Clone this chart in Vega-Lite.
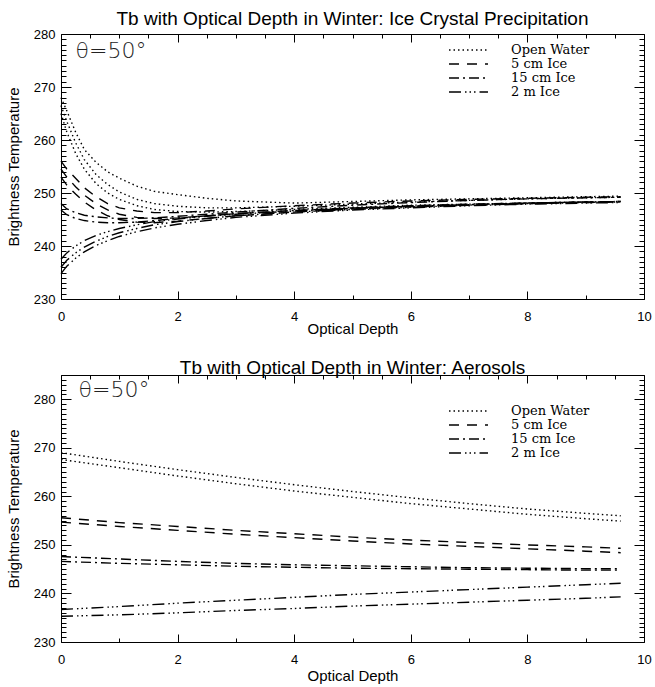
{
  "$schema": "https://vega.github.io/schema/vega-lite/v6.json",
  "background": "white",
  "padding": {"left": 5, "top": 9, "right": 5, "bottom": 1},
  "spacing": 21,
  "config": {
    "view": {"stroke": "black", "strokeWidth": 1},
    "font": "Liberation Sans",
    "title": {"fontSize": 19, "fontWeight": "normal", "color": "black", "font": "Liberation Sans"},
    "axis": {"grid": false, "domain": false, "ticks": true, "tickColor": "black", "tickWidth": 1, "labelColor": "black", "titleColor": "black", "titleFontWeight": "normal", "labelFontSize": 13, "titleFontSize": 15, "labelOverlap": false, "labelBound": false, "labelFlush": false}
  },
  "datasets": {
    "ice": [
      {"t":"Open Water","l":"a","x":0,"y":268},{"t":"Open Water","l":"a","x":0.1,"y":265.5},{"t":"Open Water","l":"a","x":0.25,"y":261.5},{"t":"Open Water","l":"a","x":0.4,"y":258.2},{"t":"Open Water","l":"a","x":0.6,"y":255.8},{"t":"Open Water","l":"a","x":0.8,"y":254},{"t":"Open Water","l":"a","x":1,"y":252.8},{"t":"Open Water","l":"a","x":1.3,"y":251.3},{"t":"Open Water","l":"a","x":1.6,"y":250.3},{"t":"Open Water","l":"a","x":2,"y":249.7},{"t":"Open Water","l":"a","x":2.5,"y":249},{"t":"Open Water","l":"a","x":3,"y":248.5},{"t":"Open Water","l":"a","x":4,"y":248.1},{"t":"Open Water","l":"a","x":5,"y":248.4},{"t":"Open Water","l":"a","x":6,"y":248.7},{"t":"Open Water","l":"a","x":7,"y":248.9},{"t":"Open Water","l":"a","x":8,"y":249.1},{"t":"Open Water","l":"a","x":9,"y":249.3},{"t":"Open Water","l":"a","x":9.6,"y":249.4},
      {"t":"Open Water","l":"b","x":0,"y":266.5},{"t":"Open Water","l":"b","x":0.1,"y":263.5},{"t":"Open Water","l":"b","x":0.25,"y":259.5},{"t":"Open Water","l":"b","x":0.4,"y":256.3},{"t":"Open Water","l":"b","x":0.6,"y":253.5},{"t":"Open Water","l":"b","x":0.8,"y":251.6},{"t":"Open Water","l":"b","x":1,"y":250.2},{"t":"Open Water","l":"b","x":1.3,"y":248.8},{"t":"Open Water","l":"b","x":1.6,"y":248},{"t":"Open Water","l":"b","x":2,"y":247.5},{"t":"Open Water","l":"b","x":2.5,"y":247.2},{"t":"Open Water","l":"b","x":3,"y":247.2},{"t":"Open Water","l":"b","x":4,"y":247.5},{"t":"Open Water","l":"b","x":5,"y":247.9},{"t":"Open Water","l":"b","x":6,"y":248.3},{"t":"Open Water","l":"b","x":7,"y":248.6},{"t":"Open Water","l":"b","x":8,"y":248.9},{"t":"Open Water","l":"b","x":9,"y":249.1},{"t":"Open Water","l":"b","x":9.6,"y":249.2},
      {"t":"Open Water","l":"c","x":0,"y":265},{"t":"Open Water","l":"c","x":0.1,"y":261.5},{"t":"Open Water","l":"c","x":0.25,"y":257.5},{"t":"Open Water","l":"c","x":0.4,"y":254.5},{"t":"Open Water","l":"c","x":0.6,"y":251.8},{"t":"Open Water","l":"c","x":0.8,"y":250},{"t":"Open Water","l":"c","x":1,"y":248.8},{"t":"Open Water","l":"c","x":1.3,"y":247.6},{"t":"Open Water","l":"c","x":1.6,"y":246.9},{"t":"Open Water","l":"c","x":2,"y":246.5},{"t":"Open Water","l":"c","x":2.5,"y":246.4},{"t":"Open Water","l":"c","x":3,"y":246.5},{"t":"Open Water","l":"c","x":4,"y":246.9},{"t":"Open Water","l":"c","x":5,"y":247.3},{"t":"Open Water","l":"c","x":6,"y":247.7},{"t":"Open Water","l":"c","x":7,"y":247.9},{"t":"Open Water","l":"c","x":8,"y":248.1},{"t":"Open Water","l":"c","x":9,"y":248.3},{"t":"Open Water","l":"c","x":9.6,"y":248.4},
      {"t":"5 cm Ice","l":"a","x":0,"y":256},{"t":"5 cm Ice","l":"a","x":0.1,"y":254.5},{"t":"5 cm Ice","l":"a","x":0.25,"y":252.8},{"t":"5 cm Ice","l":"a","x":0.4,"y":251},{"t":"5 cm Ice","l":"a","x":0.6,"y":249.3},{"t":"5 cm Ice","l":"a","x":0.8,"y":248},{"t":"5 cm Ice","l":"a","x":1,"y":247.2},{"t":"5 cm Ice","l":"a","x":1.3,"y":246.6},{"t":"5 cm Ice","l":"a","x":1.6,"y":246.3},{"t":"5 cm Ice","l":"a","x":2,"y":246.3},{"t":"5 cm Ice","l":"a","x":2.5,"y":246.6},{"t":"5 cm Ice","l":"a","x":3,"y":247},{"t":"5 cm Ice","l":"a","x":4,"y":247.6},{"t":"5 cm Ice","l":"a","x":5,"y":248.1},{"t":"5 cm Ice","l":"a","x":6,"y":248.5},{"t":"5 cm Ice","l":"a","x":7,"y":248.8},{"t":"5 cm Ice","l":"a","x":8,"y":249},{"t":"5 cm Ice","l":"a","x":9,"y":249.2},{"t":"5 cm Ice","l":"a","x":9.6,"y":249.3},
      {"t":"5 cm Ice","l":"b","x":0,"y":254.5},{"t":"5 cm Ice","l":"b","x":0.1,"y":253},{"t":"5 cm Ice","l":"b","x":0.25,"y":251.2},{"t":"5 cm Ice","l":"b","x":0.4,"y":249.6},{"t":"5 cm Ice","l":"b","x":0.6,"y":248},{"t":"5 cm Ice","l":"b","x":0.8,"y":246.8},{"t":"5 cm Ice","l":"b","x":1,"y":246},{"t":"5 cm Ice","l":"b","x":1.3,"y":245.4},{"t":"5 cm Ice","l":"b","x":1.6,"y":245.2},{"t":"5 cm Ice","l":"b","x":2,"y":245.3},{"t":"5 cm Ice","l":"b","x":2.5,"y":245.7},{"t":"5 cm Ice","l":"b","x":3,"y":246.1},{"t":"5 cm Ice","l":"b","x":4,"y":246.7},{"t":"5 cm Ice","l":"b","x":5,"y":247.2},{"t":"5 cm Ice","l":"b","x":6,"y":247.6},{"t":"5 cm Ice","l":"b","x":7,"y":247.9},{"t":"5 cm Ice","l":"b","x":8,"y":248.1},{"t":"5 cm Ice","l":"b","x":9,"y":248.3},{"t":"5 cm Ice","l":"b","x":9.6,"y":248.4},
      {"t":"5 cm Ice","l":"c","x":0,"y":253},{"t":"5 cm Ice","l":"c","x":0.1,"y":251.5},{"t":"5 cm Ice","l":"c","x":0.25,"y":249.8},{"t":"5 cm Ice","l":"c","x":0.4,"y":248.3},{"t":"5 cm Ice","l":"c","x":0.6,"y":246.8},{"t":"5 cm Ice","l":"c","x":0.8,"y":245.7},{"t":"5 cm Ice","l":"c","x":1,"y":245},{"t":"5 cm Ice","l":"c","x":1.3,"y":244.5},{"t":"5 cm Ice","l":"c","x":1.6,"y":244.4},{"t":"5 cm Ice","l":"c","x":2,"y":244.7},{"t":"5 cm Ice","l":"c","x":2.5,"y":245.2},{"t":"5 cm Ice","l":"c","x":3,"y":245.7},{"t":"5 cm Ice","l":"c","x":4,"y":246.4},{"t":"5 cm Ice","l":"c","x":5,"y":247},{"t":"5 cm Ice","l":"c","x":6,"y":247.4},{"t":"5 cm Ice","l":"c","x":7,"y":247.7},{"t":"5 cm Ice","l":"c","x":8,"y":248},{"t":"5 cm Ice","l":"c","x":9,"y":248.2},{"t":"5 cm Ice","l":"c","x":9.6,"y":248.3},
      {"t":"15 cm Ice","l":"a","x":0,"y":248},{"t":"15 cm Ice","l":"a","x":0.1,"y":247},{"t":"15 cm Ice","l":"a","x":0.25,"y":246.3},{"t":"15 cm Ice","l":"a","x":0.4,"y":245.8},{"t":"15 cm Ice","l":"a","x":0.6,"y":245.5},{"t":"15 cm Ice","l":"a","x":0.8,"y":245.3},{"t":"15 cm Ice","l":"a","x":1,"y":245.2},{"t":"15 cm Ice","l":"a","x":1.3,"y":245.2},{"t":"15 cm Ice","l":"a","x":1.6,"y":245.3},{"t":"15 cm Ice","l":"a","x":2,"y":245.6},{"t":"15 cm Ice","l":"a","x":2.5,"y":246},{"t":"15 cm Ice","l":"a","x":3,"y":246.4},{"t":"15 cm Ice","l":"a","x":4,"y":247.1},{"t":"15 cm Ice","l":"a","x":5,"y":247.7},{"t":"15 cm Ice","l":"a","x":6,"y":248.2},{"t":"15 cm Ice","l":"a","x":7,"y":248.6},{"t":"15 cm Ice","l":"a","x":8,"y":248.9},{"t":"15 cm Ice","l":"a","x":9,"y":249.1},{"t":"15 cm Ice","l":"a","x":9.6,"y":249.2},
      {"t":"15 cm Ice","l":"b","x":0,"y":246.8},{"t":"15 cm Ice","l":"b","x":0.1,"y":245.9},{"t":"15 cm Ice","l":"b","x":0.25,"y":245.2},{"t":"15 cm Ice","l":"b","x":0.4,"y":244.8},{"t":"15 cm Ice","l":"b","x":0.6,"y":244.5},{"t":"15 cm Ice","l":"b","x":0.8,"y":244.4},{"t":"15 cm Ice","l":"b","x":1,"y":244.4},{"t":"15 cm Ice","l":"b","x":1.3,"y":244.5},{"t":"15 cm Ice","l":"b","x":1.6,"y":244.8},{"t":"15 cm Ice","l":"b","x":2,"y":245.2},{"t":"15 cm Ice","l":"b","x":2.5,"y":245.7},{"t":"15 cm Ice","l":"b","x":3,"y":246.1},{"t":"15 cm Ice","l":"b","x":4,"y":246.7},{"t":"15 cm Ice","l":"b","x":5,"y":247.1},{"t":"15 cm Ice","l":"b","x":6,"y":247.5},{"t":"15 cm Ice","l":"b","x":7,"y":247.8},{"t":"15 cm Ice","l":"b","x":8,"y":248.1},{"t":"15 cm Ice","l":"b","x":9,"y":248.3},{"t":"15 cm Ice","l":"b","x":9.6,"y":248.4},
      {"t":"2 m Ice","l":"a","x":0,"y":237.5},{"t":"2 m Ice","l":"a","x":0.1,"y":238.7},{"t":"2 m Ice","l":"a","x":0.25,"y":240},{"t":"2 m Ice","l":"a","x":0.4,"y":241},{"t":"2 m Ice","l":"a","x":0.6,"y":242},{"t":"2 m Ice","l":"a","x":0.8,"y":242.7},{"t":"2 m Ice","l":"a","x":1,"y":243.3},{"t":"2 m Ice","l":"a","x":1.3,"y":244},{"t":"2 m Ice","l":"a","x":1.6,"y":244.6},{"t":"2 m Ice","l":"a","x":2,"y":245.1},{"t":"2 m Ice","l":"a","x":2.5,"y":245.6},{"t":"2 m Ice","l":"a","x":3,"y":246},{"t":"2 m Ice","l":"a","x":4,"y":246.6},{"t":"2 m Ice","l":"a","x":5,"y":247.1},{"t":"2 m Ice","l":"a","x":6,"y":247.5},{"t":"2 m Ice","l":"a","x":7,"y":247.8},{"t":"2 m Ice","l":"a","x":8,"y":248.1},{"t":"2 m Ice","l":"a","x":9,"y":248.3},{"t":"2 m Ice","l":"a","x":9.6,"y":248.4},
      {"t":"2 m Ice","l":"b","x":0,"y":236},{"t":"2 m Ice","l":"b","x":0.1,"y":237.3},{"t":"2 m Ice","l":"b","x":0.25,"y":238.7},{"t":"2 m Ice","l":"b","x":0.4,"y":239.8},{"t":"2 m Ice","l":"b","x":0.6,"y":240.9},{"t":"2 m Ice","l":"b","x":0.8,"y":241.8},{"t":"2 m Ice","l":"b","x":1,"y":242.5},{"t":"2 m Ice","l":"b","x":1.3,"y":243.3},{"t":"2 m Ice","l":"b","x":1.6,"y":244},{"t":"2 m Ice","l":"b","x":2,"y":244.6},{"t":"2 m Ice","l":"b","x":2.5,"y":245.2},{"t":"2 m Ice","l":"b","x":3,"y":245.7},{"t":"2 m Ice","l":"b","x":4,"y":246.4},{"t":"2 m Ice","l":"b","x":5,"y":246.9},{"t":"2 m Ice","l":"b","x":6,"y":247.3},{"t":"2 m Ice","l":"b","x":7,"y":247.7},{"t":"2 m Ice","l":"b","x":8,"y":248},{"t":"2 m Ice","l":"b","x":9,"y":248.2},{"t":"2 m Ice","l":"b","x":9.6,"y":248.3},
      {"t":"2 m Ice","l":"c","x":0,"y":234.8},{"t":"2 m Ice","l":"c","x":0.1,"y":236.2},{"t":"2 m Ice","l":"c","x":0.25,"y":237.7},{"t":"2 m Ice","l":"c","x":0.4,"y":238.9},{"t":"2 m Ice","l":"c","x":0.6,"y":240.1},{"t":"2 m Ice","l":"c","x":0.8,"y":241},{"t":"2 m Ice","l":"c","x":1,"y":241.8},{"t":"2 m Ice","l":"c","x":1.3,"y":242.7},{"t":"2 m Ice","l":"c","x":1.6,"y":243.4},{"t":"2 m Ice","l":"c","x":2,"y":244.1},{"t":"2 m Ice","l":"c","x":2.5,"y":244.8},{"t":"2 m Ice","l":"c","x":3,"y":245.4},{"t":"2 m Ice","l":"c","x":4,"y":246.2},{"t":"2 m Ice","l":"c","x":5,"y":246.8},{"t":"2 m Ice","l":"c","x":6,"y":247.2},{"t":"2 m Ice","l":"c","x":7,"y":247.6},{"t":"2 m Ice","l":"c","x":8,"y":247.9},{"t":"2 m Ice","l":"c","x":9,"y":248.1},{"t":"2 m Ice","l":"c","x":9.6,"y":248.2}
    ],
    "aer": [
      {"t":"Open Water","l":"a","x":0,"y":269},{"t":"Open Water","l":"a","x":1,"y":267.2},{"t":"Open Water","l":"a","x":2,"y":265.5},{"t":"Open Water","l":"a","x":3,"y":263.9},{"t":"Open Water","l":"a","x":4,"y":262.4},{"t":"Open Water","l":"a","x":5,"y":261},{"t":"Open Water","l":"a","x":6,"y":259.7},{"t":"Open Water","l":"a","x":7,"y":258.5},{"t":"Open Water","l":"a","x":8,"y":257.4},{"t":"Open Water","l":"a","x":9,"y":256.5},{"t":"Open Water","l":"a","x":9.6,"y":256},
      {"t":"Open Water","l":"b","x":0,"y":267.6},{"t":"Open Water","l":"b","x":1,"y":265.9},{"t":"Open Water","l":"b","x":2,"y":264.2},{"t":"Open Water","l":"b","x":3,"y":262.6},{"t":"Open Water","l":"b","x":4,"y":261.1},{"t":"Open Water","l":"b","x":5,"y":259.8},{"t":"Open Water","l":"b","x":6,"y":258.5},{"t":"Open Water","l":"b","x":7,"y":257.4},{"t":"Open Water","l":"b","x":8,"y":256.3},{"t":"Open Water","l":"b","x":9,"y":255.4},{"t":"Open Water","l":"b","x":9.6,"y":254.9},
      {"t":"5 cm Ice","l":"a","x":0,"y":255.6},{"t":"5 cm Ice","l":"a","x":1,"y":254.6},{"t":"5 cm Ice","l":"a","x":2,"y":253.8},{"t":"5 cm Ice","l":"a","x":3,"y":253},{"t":"5 cm Ice","l":"a","x":4,"y":252.3},{"t":"5 cm Ice","l":"a","x":5,"y":251.6},{"t":"5 cm Ice","l":"a","x":6,"y":251},{"t":"5 cm Ice","l":"a","x":7,"y":250.5},{"t":"5 cm Ice","l":"a","x":8,"y":250},{"t":"5 cm Ice","l":"a","x":9,"y":249.6},{"t":"5 cm Ice","l":"a","x":9.6,"y":249.3},
      {"t":"5 cm Ice","l":"b","x":0,"y":254.7},{"t":"5 cm Ice","l":"b","x":1,"y":253.8},{"t":"5 cm Ice","l":"b","x":2,"y":253},{"t":"5 cm Ice","l":"b","x":3,"y":252.2},{"t":"5 cm Ice","l":"b","x":4,"y":251.5},{"t":"5 cm Ice","l":"b","x":5,"y":250.8},{"t":"5 cm Ice","l":"b","x":6,"y":250.2},{"t":"5 cm Ice","l":"b","x":7,"y":249.7},{"t":"5 cm Ice","l":"b","x":8,"y":249.2},{"t":"5 cm Ice","l":"b","x":9,"y":248.7},{"t":"5 cm Ice","l":"b","x":9.6,"y":248.4},
      {"t":"15 cm Ice","l":"a","x":0,"y":247.6},{"t":"15 cm Ice","l":"a","x":1,"y":247.1},{"t":"15 cm Ice","l":"a","x":2,"y":246.6},{"t":"15 cm Ice","l":"a","x":3,"y":246.2},{"t":"15 cm Ice","l":"a","x":4,"y":245.9},{"t":"15 cm Ice","l":"a","x":5,"y":245.7},{"t":"15 cm Ice","l":"a","x":6,"y":245.5},{"t":"15 cm Ice","l":"a","x":7,"y":245.3},{"t":"15 cm Ice","l":"a","x":8,"y":245.2},{"t":"15 cm Ice","l":"a","x":9,"y":245.1},{"t":"15 cm Ice","l":"a","x":9.6,"y":245.1},
      {"t":"15 cm Ice","l":"b","x":0,"y":246.6},{"t":"15 cm Ice","l":"b","x":1,"y":246.2},{"t":"15 cm Ice","l":"b","x":2,"y":245.9},{"t":"15 cm Ice","l":"b","x":3,"y":245.6},{"t":"15 cm Ice","l":"b","x":4,"y":245.4},{"t":"15 cm Ice","l":"b","x":5,"y":245.2},{"t":"15 cm Ice","l":"b","x":6,"y":245.1},{"t":"15 cm Ice","l":"b","x":7,"y":245},{"t":"15 cm Ice","l":"b","x":8,"y":244.9},{"t":"15 cm Ice","l":"b","x":9,"y":244.8},{"t":"15 cm Ice","l":"b","x":9.6,"y":244.8},
      {"t":"2 m Ice","l":"a","x":0,"y":236.7},{"t":"2 m Ice","l":"a","x":1,"y":237.3},{"t":"2 m Ice","l":"a","x":2,"y":238},{"t":"2 m Ice","l":"a","x":3,"y":238.6},{"t":"2 m Ice","l":"a","x":4,"y":239.2},{"t":"2 m Ice","l":"a","x":5,"y":239.8},{"t":"2 m Ice","l":"a","x":6,"y":240.3},{"t":"2 m Ice","l":"a","x":7,"y":240.8},{"t":"2 m Ice","l":"a","x":8,"y":241.3},{"t":"2 m Ice","l":"a","x":9,"y":241.8},{"t":"2 m Ice","l":"a","x":9.6,"y":242.1},
      {"t":"2 m Ice","l":"b","x":0,"y":235.3},{"t":"2 m Ice","l":"b","x":1,"y":235.6},{"t":"2 m Ice","l":"b","x":2,"y":236},{"t":"2 m Ice","l":"b","x":3,"y":236.5},{"t":"2 m Ice","l":"b","x":4,"y":236.9},{"t":"2 m Ice","l":"b","x":5,"y":237.4},{"t":"2 m Ice","l":"b","x":6,"y":237.8},{"t":"2 m Ice","l":"b","x":7,"y":238.2},{"t":"2 m Ice","l":"b","x":8,"y":238.6},{"t":"2 m Ice","l":"b","x":9,"y":239},{"t":"2 m Ice","l":"b","x":9.6,"y":239.3}
    ]
  },
  "resolve": {"scale": {"y": "independent", "strokeDash": "independent"}, "legend": {"strokeDash": "independent"}},
  "vconcat": [
    {
      "title": {"text": "Tb with Optical Depth in Winter: Ice Crystal Precipitation", "offset": -1},
      "width": 583,
      "height": 265,
      "resolve": {"axis": {"x": "independent", "y": "independent"}},
      "layer": [
        {
          "data": {"name": "ice"},
          "mark": {"type": "line", "color": "black", "strokeWidth": 1.4},
          "encoding": {
            "x": {"field": "x", "type": "quantitative", "scale": {"domain": [0, 10], "nice": false, "zero": false},
              "axis": {"title": "Optical Depth", "orient": "bottom", "values": [0,0.5,1,1.5,2,2.5,3,3.5,4,4.5,5,5.5,6,6.5,7,7.5,8,8.5,9,9.5,10], "format": "d",
                "labelExpr": "datum.value % 2 === 0 ? datum.label : ''",
                "tickSize": -8,
                "tickDash": {"condition": {"test": "datum.value % 2 === 0", "value": []}, "value": [4, 50]},
                "labelPadding": 19, "titlePadding": -2}},
            "y": {"field": "y", "type": "quantitative", "scale": {"domain": [230, 280], "nice": false, "zero": false},
              "axis": {"title": "Brightness Temperature", "orient": "left", "values": [230,231,232,233,234,235,236,237,238,239,240,241,242,243,244,245,246,247,248,249,250,251,252,253,254,255,256,257,258,259,260,261,262,263,264,265,266,267,268,269,270,271,272,273,274,275,276,277,278,279,280],
                "labelExpr": "datum.value % 10 === 0 ? datum.label : ''",
                "tickSize": -10,
                "tickDash": {"condition": {"test": "datum.value % 10 === 0", "value": []}, "value": [5, 50]},
                "labelPadding": 16, "titlePadding": 12}},
            "detail": {"field": "l"},
            "strokeDash": {"field": "t", "type": "nominal",
              "scale": {"domain": ["Open Water", "5 cm Ice", "15 cm Ice", "2 m Ice"], "range": [[1.5, 3], [10, 8], [10, 4, 2, 4], [12, 4, 1.5, 3, 1.5, 3, 1.5, 4]]},
              "legend": {"orient": "none", "legendX": 401, "legendY": 9.5, "title": null, "symbolType": "M-4.33,0H4.33", "symbolSize": 81, "symbolStrokeWidth": 1.3, "symbolStrokeColor": "black", "labelFont": "DejaVu Serif", "labelFontSize": 13, "labelColor": "black", "rowPadding": 0, "labelOffset": 36}}
          }
        },
        {
          "data": {"name": "ice"},
          "mark": {"type": "line", "strokeOpacity": 0},
          "encoding": {
            "x": {"field": "x", "type": "quantitative",
              "axis": {"title": null, "orient": "top", "labels": false, "values": [0,0.5,1,1.5,2,2.5,3,3.5,4,4.5,5,5.5,6,6.5,7,7.5,8,8.5,9,9.5,10],
                "tickSize": -8,
                "tickDash": {"condition": {"test": "datum.value % 2 === 0", "value": []}, "value": [4, 50]}}},
            "y": {"field": "y", "type": "quantitative",
              "axis": {"title": null, "orient": "right", "labels": false, "values": [230,231,232,233,234,235,236,237,238,239,240,241,242,243,244,245,246,247,248,249,250,251,252,253,254,255,256,257,258,259,260,261,262,263,264,265,266,267,268,269,270,271,272,273,274,275,276,277,278,279,280],
                "tickSize": -10,
                "tickDash": {"condition": {"test": "datum.value % 10 === 0", "value": []}, "value": [5, 50]}}},
            "detail": {"field": "l"}
          }
        },
        {
          "data": {"values": [{"label": "θ=50°"}]},
          "mark": {"type": "text", "align": "left", "baseline": "middle", "fontSize": 22, "font": "DejaVu Sans", "fontWeight": 200, "color": "#222"},
          "encoding": {
            "text": {"field": "label"},
            "x": {"datum": 0.25, "type": "quantitative", "axis": null},
            "y": {"datum": 276.8, "type": "quantitative", "axis": null}
          }
        }
      ]
    },
    {
      "title": {"text": "Tb with Optical Depth in Winter: Aerosols", "offset": -9},
      "width": 583,
      "height": 267,
      "resolve": {"axis": {"x": "independent", "y": "independent"}},
      "layer": [
        {
          "data": {"name": "aer"},
          "mark": {"type": "line", "color": "black", "strokeWidth": 1.4},
          "encoding": {
            "x": {"field": "x", "type": "quantitative", "scale": {"domain": [0, 10], "nice": false, "zero": false},
              "axis": {"title": "Optical Depth", "orient": "bottom", "values": [0,0.5,1,1.5,2,2.5,3,3.5,4,4.5,5,5.5,6,6.5,7,7.5,8,8.5,9,9.5,10], "format": "d",
                "labelExpr": "datum.value % 2 === 0 ? datum.label : ''",
                "tickSize": -8,
                "tickDash": {"condition": {"test": "datum.value % 2 === 0", "value": []}, "value": [4, 50]},
                "labelPadding": 19, "titlePadding": 2}},
            "y": {"field": "y", "type": "quantitative", "scale": {"domain": [230, 285], "nice": false, "zero": false},
              "axis": {"title": "Brightness Temperature", "orient": "left", "values": [230,231,232,233,234,235,236,237,238,239,240,241,242,243,244,245,246,247,248,249,250,251,252,253,254,255,256,257,258,259,260,261,262,263,264,265,266,267,268,269,270,271,272,273,274,275,276,277,278,279,280,281,282,283,284,285],
                "labelExpr": "datum.value % 10 === 0 ? datum.label : ''",
                "tickSize": -10,
                "tickDash": {"condition": {"test": "datum.value % 10 === 0", "value": []}, "value": [5, 50]},
                "labelPadding": 16, "titlePadding": 12}},
            "detail": {"field": "l"},
            "strokeDash": {"field": "t", "type": "nominal",
              "scale": {"domain": ["Open Water", "5 cm Ice", "15 cm Ice", "2 m Ice"], "range": [[1.5, 3], [10, 8], [10, 4, 2, 4], [12, 4, 1.5, 3, 1.5, 3, 1.5, 4]]},
              "legend": {"orient": "none", "legendX": 401, "legendY": 29.5, "title": null, "symbolType": "M-4.33,0H4.33", "symbolSize": 81, "symbolStrokeWidth": 1.3, "symbolStrokeColor": "black", "labelFont": "DejaVu Serif", "labelFontSize": 13, "labelColor": "black", "rowPadding": 0, "labelOffset": 36}}
          }
        },
        {
          "data": {"name": "aer"},
          "mark": {"type": "line", "strokeOpacity": 0},
          "encoding": {
            "x": {"field": "x", "type": "quantitative",
              "axis": {"title": null, "orient": "top", "labels": false, "values": [0,0.5,1,1.5,2,2.5,3,3.5,4,4.5,5,5.5,6,6.5,7,7.5,8,8.5,9,9.5,10],
                "tickSize": -8,
                "tickDash": {"condition": {"test": "datum.value % 2 === 0", "value": []}, "value": [4, 50]}}},
            "y": {"field": "y", "type": "quantitative",
              "axis": {"title": null, "orient": "right", "labels": false, "values": [230,231,232,233,234,235,236,237,238,239,240,241,242,243,244,245,246,247,248,249,250,251,252,253,254,255,256,257,258,259,260,261,262,263,264,265,266,267,268,269,270,271,272,273,274,275,276,277,278,279,280,281,282,283,284,285],
                "tickSize": -10,
                "tickDash": {"condition": {"test": "datum.value % 10 === 0", "value": []}, "value": [5, 50]}}},
            "detail": {"field": "l"}
          }
        },
        {
          "data": {"values": [{"label": "θ=50°"}]},
          "mark": {"type": "text", "align": "left", "baseline": "middle", "fontSize": 22, "font": "DejaVu Sans", "fontWeight": 200, "color": "#222"},
          "encoding": {
            "text": {"field": "label"},
            "x": {"datum": 0.3, "type": "quantitative", "axis": null},
            "y": {"datum": 281.9, "type": "quantitative", "axis": null}
          }
        }
      ]
    }
  ]
}
